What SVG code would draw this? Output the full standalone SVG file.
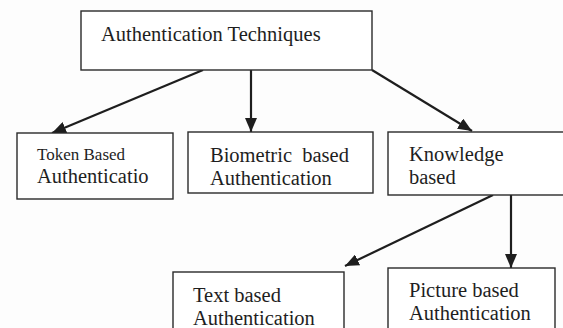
<svg xmlns="http://www.w3.org/2000/svg" width="563" height="328" viewBox="0 0 563 328">
<defs>
<style>
.box{fill:#ffffff;stroke:#2a2a2a;stroke-width:1.4}
.t{font-family:"Liberation Serif","Times New Roman",serif;font-size:20.5px;fill:#1e1e1e}
.s{font-size:17px}
.c{stroke:#1e1e1e;stroke-width:2.2;fill:none;marker-end:url(#ah)}
</style>
<marker id="ah" viewBox="0 0 14 12" refX="14" refY="6" markerWidth="14" markerHeight="12" markerUnits="userSpaceOnUse" orient="auto">
<path d="M0,0 L14,6 L0,12 Z" fill="#1e1e1e"/>
</marker>
</defs>
<rect width="563" height="328" fill="#fdfdfd"/>
<g id="connectors">
<line class="c" x1="203" y1="70" x2="52" y2="133"/>
<line class="c" x1="251" y1="70" x2="251" y2="132"/>
<line class="c" x1="372" y1="70" x2="472" y2="131"/>
<line class="c" x1="493" y1="195" x2="345" y2="266"/>
<line class="c" x1="511" y1="195" x2="511" y2="268"/>
</g>
<g id="n-root">
<rect class="box" x="81" y="11" width="291" height="59"/>
<text class="t" x="101" y="41">Authentication Techniques</text>
</g>
<g id="n-token">
<rect class="box" x="17" y="133" width="156" height="66"/>
<text class="t s" x="37" y="160">Token Based</text>
<text class="t" x="37" y="183">Authenticatio</text>
</g>
<g id="n-biometric">
<rect class="box" x="188" y="132" width="185" height="61"/>
<text class="t" x="210" y="162" xml:space="preserve">Biometric  based</text>
<text class="t" x="210" y="185">Authentication</text>
</g>
<g id="n-knowledge">
<rect class="box" x="388" y="132" width="180" height="63"/>
<text class="t" x="409" y="161">Knowledge</text>
<text class="t" x="409" y="184">based</text>
</g>
<g id="n-text">
<rect class="box" x="173" y="272" width="171" height="70"/>
<text class="t" x="193" y="302">Text based</text>
<text class="t" x="193" y="325">Authentication</text>
</g>
<g id="n-picture">
<rect class="box" x="388" y="268" width="167" height="74"/>
<text class="t" x="409" y="297">Picture based</text>
<text class="t" x="409" y="320">Authentication</text>
</g>
</svg>
